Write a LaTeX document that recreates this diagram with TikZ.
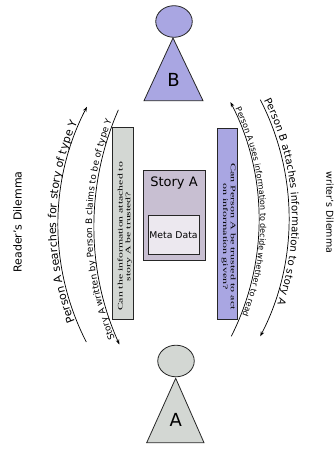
\documentclass[tikz,border=0pt]{standalone}
\usepackage{fontspec}
\usepackage{graphicx}
\setmainfont{DejaVu Sans}
\newfontfamily\boxserif{Liberation Serif}
\usetikzlibrary{arrows.meta,decorations.text,shapes.geometric}
\definecolor{lav}{HTML}{A9A6E2}
\definecolor{alu}{HTML}{D3D7D3}
\definecolor{storyc}{HTML}{C8BFD2}
\definecolor{metac}{HTML}{ECE8EF}
\begin{document}
\begin{tikzpicture}[x=1pt,y=-1pt,
  outline/.style={draw=black!85, line width=0.8pt},
  arcline/.style={draw=black, line width=0.7pt},
  tipend/.style={-{Stealth[length=5pt,width=3.6pt]}},
  tipstart/.style={{Stealth[length=5pt,width=3.6pt]}-},
  headnode/.style={ellipse, outline, inner sep=0pt, minimum width=36.5pt, minimum height=31.6pt},
  qtext/.style={inner sep=0pt, font=\boxserif\fontsize{7}{7.6}\selectfont},
]
\useasboundingbox (0,0) rectangle (333,449);

% person B
\node[headnode, fill=lav] (headB) at (174,21.5) {};
\coordinate (bTop) at (173,38);
\coordinate (bR) at (203,100.7);
\coordinate (bL) at (144,100.7);
\draw[outline, fill=lav] (bTop) -- (bR) -- (bL) -- cycle;
\node[font=\fontsize{18}{20}\selectfont] (B) at (173.5,80) {B};

% person A
\node[headnode, fill=alu] (headA) at (176,361) {};
\coordinate (aTop) at (175.7,378.3);
\coordinate (aR) at (204,442.7);
\coordinate (aL) at (146.7,442.7);
\draw[outline, fill=alu] (aTop) -- (aR) -- (aL) -- cycle;
\node[font=\fontsize{18}{20}\selectfont] (A) at (175.7,420) {A};

% story box
\node[outline, fill=storyc, anchor=north west, minimum width=62pt, minimum height=90pt, inner sep=0pt] (story) at (143,170) {};
\node[font=\fontsize{13}{15}\selectfont] (storyT) at (174,183.5) {Story A};
\node[outline, fill=metac, anchor=north west, minimum width=51pt, minimum height=39pt, inner sep=0pt] (meta) at (148,215) {};
\node[font=\fontsize{9.3}{11}\selectfont] (metaT) at (173.5,235) {Meta Data};

% question boxes
\node[outline, fill=alu, anchor=north west, minimum width=21pt, minimum height=192pt, inner sep=0pt] (readq) at (112,127) {};
\node[qtext, rotate=90] (readqT) at (125,236.5) {\scalebox{1.68}[1]{\begin{tabular}{@{}c@{}}Can the information attached to\\story A be trusted?\end{tabular}}};
\node[outline, fill=lav, anchor=north west, minimum width=20pt, minimum height=191pt, inner sep=0pt] (writeq) at (216.7,128) {};
\node[qtext, rotate=-90] (writeqT) at (228.5,236.5) {\scalebox{1.72}[1]{\begin{tabular}{@{}c@{}}Can Person A be trusted to act\\on information given?\end{tabular}}};

% dilemma labels
\node[rotate=90, font=\fontsize{11}{13}\selectfont] (rd) at (17.5,222) {Reader's Dilemma};
\node[rotate=-90, anchor=south, inner sep=0pt, font=\fontsize{9.5}{11}\selectfont] (wd) at (326,212.5) {writer's Dilemma};

% left outer arc
\draw[arcline, tipend] (314,225) ++(152.8:256) arc[start angle=152.8, end angle=207.5, radius=256];
\path[decorate, decoration={text along path, text={|\fontsize{11}{13}\selectfont|Person A searches for story of type Y}, text align={left, left indent=23pt}, raise=2pt}]
  (314,225) ++(152.8:256) arc[start angle=152.8, end angle=207.5, radius=256];

% left inner arc
\draw[arcline, tipstart] (383,226) ++(155.8:289) arc[start angle=155.8, end angle=203.7, radius=289];
\path[decorate, decoration={text along path, text={|\fontsize{8.9}{11}\selectfont|Story A written by Person B claims to be of type Y}, text align={left, left indent=7pt}, raise=2pt}]
  (383,226) ++(155.8:289) arc[start angle=155.8, end angle=203.7, radius=289];

% right inner arc
\draw[arcline, tipstart] (1,220) ++(-27.2:258) arc[start angle=-27.2, end angle=26.8, radius=258];
\path[decorate, decoration={text along path, text={|\fontsize{8}{10}\selectfont|Person A uses information to decide whether to read}, text align={left, left indent=8pt}, raise=1.5pt}]
  (1,220) ++(-27.2:258) arc[start angle=-27.2, end angle=26.8, radius=258];

% right outer arc
\draw[arcline, tipend] (31,218) ++(-27.3:258) arc[start angle=-27.3, end angle=27.3, radius=258];
\path[decorate, decoration={text along path, text={|\fontsize{10.2}{12}\selectfont|Person B attaches information to story A}, text align={left, left indent=2pt}, raise=3pt}]
  (31,218) ++(-27.3:258) arc[start angle=-27.3, end angle=27.3, radius=258];
\end{tikzpicture}
\end{document}
